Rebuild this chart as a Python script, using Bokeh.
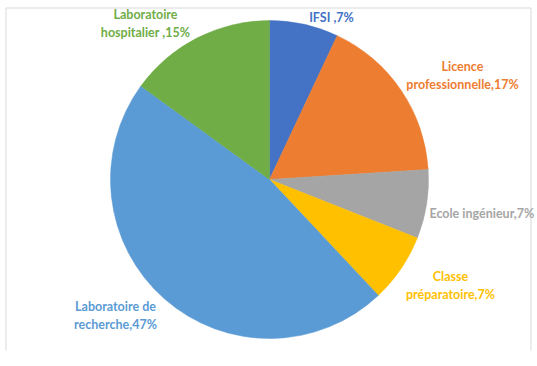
import math
from bokeh.plotting import figure
from bokeh.models import ColumnDataSource, Range1d
from bokeh.core.properties import value
from bokeh.embed import file_html
from bokeh.resources import INLINE

# ---- data ----
categories = ["IFSI", "Licence professionnelle", "Ecole ingénieur",
              "Classe préparatoire", "Laboratoire de recherche", "Laboratoire hospitalier"]
percents = [7, 17, 7, 7, 47, 15]
label_texts = ["IFSI ,7%", "Licence\nprofessionnelle,17%", "Ecole ingénieur,7%",
               "Classe\npréparatoire,7%", "Laboratoire de\nrecherche,47%",
               "Laboratoire\nhospitalier ,15%"]

# ---- styles / layout ----
colors = ["#4472C4", "#ED7D31", "#A5A5A5", "#FFC000", "#5B9BD5", "#70AD47"]
label_x = [62, 193, 160, 181, -154, -124]
label_y = [162, 104, -34, -106, -136, 156]
label_align = ["center", "center", "left", "center", "center", "center"]
RADIUS = 159

total = float(sum(percents))
starts, ends = [], []
cum = 0.0
for v in percents:
    a0 = math.pi / 2 - 2 * math.pi * cum / total
    cum += v
    a1 = math.pi / 2 - 2 * math.pi * cum / total
    starts.append(a1)
    ends.append(a0)

src = ColumnDataSource(dict(cat=categories, val=percents, start=starts, end=ends, color=colors))

p = figure(width=537, height=360, output_backend="svg", toolbar_location=None,
           x_range=Range1d(-269, 268), y_range=Range1d(-181, 179), min_border=0)
p.axis.visible = False
p.grid.visible = False
p.outline_line_color = None
p.background_fill_color = "white"
p.border_fill_color = "white"

p.wedge(x=0, y=0, radius=RADIUS, start_angle="start", end_angle="end",
        direction="anticlock", fill_color="color", line_color="color", line_width=0.5,
        source=src)

# chart area frame (light gray, open at bottom)
frame_col = "#d9d9d9"
p.segment(x0=[-263.5, -263.5, 261.5], y0=[171.5, 171.5, 171.5],
          x1=[261.5, -263.5, 261.5], y1=[171.5, -171, -171],
          line_color=frame_col, line_width=1)

lsrc = ColumnDataSource(dict(x=label_x, y=label_y, t=label_texts, c=colors, a=label_align))
p.text(x="x", y="y", text="t", text_color="c", text_align="a", text_baseline="middle",
       text_font=value("Lato"), text_font_style="bold", text_font_size=value("12.5px"),
       text_line_height=1.25, source=lsrc)

open("out.html", "w").write(file_html(p, INLINE))
